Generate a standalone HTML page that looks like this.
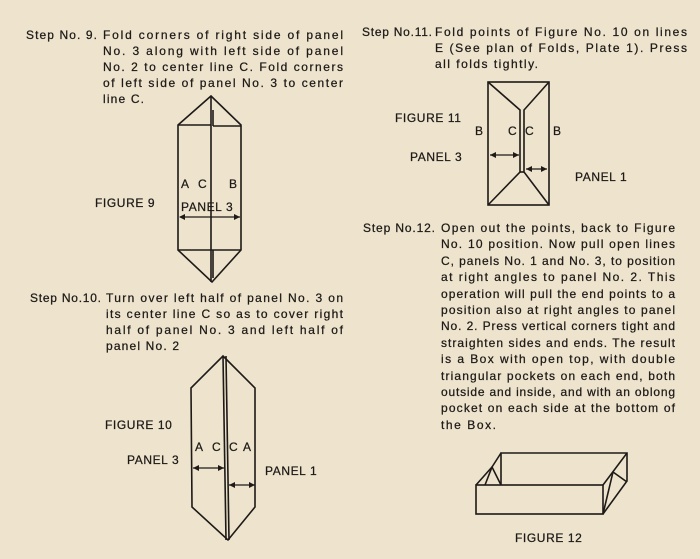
<!DOCTYPE html>
<html><head><meta charset="utf-8"><style>
html,body{margin:0;padding:0;background:#eee3cd;}
svg{display:block}
text{font-family:"Liberation Sans",sans-serif;fill:#1d1a17;font-size:12px;stroke:#1d1a17;stroke-width:0.25px;}
.f{font-size:12.5px;letter-spacing:0.6px}
</style></head><body>
<svg width="700" height="559" viewBox="0 0 700 559" xmlns="http://www.w3.org/2000/svg">
<rect width="700" height="559" fill="#eee3cd"/>
<g>
<text x="26" y="39" textLength="71" lengthAdjust="spacing">Step No. 9.</text>
<text x="103" y="39" textLength="240" lengthAdjust="spacing">Fold corners of right side of panel</text>
<text x="103" y="55" textLength="240" lengthAdjust="spacing">No. 3 along with left side of panel</text>
<text x="103" y="71" textLength="240" lengthAdjust="spacing">No. 2 to center line C. Fold corners</text>
<text x="103" y="87" textLength="240" lengthAdjust="spacing">of left side of panel No. 3 to center</text>
<text x="103" y="103" textLength="41" lengthAdjust="spacing">line C.</text>

<text x="30" y="302" textLength="71" lengthAdjust="spacing">Step No.10.</text>
<text x="106" y="302" textLength="237" lengthAdjust="spacing">Turn over left half of panel No. 3 on</text>
<text x="106" y="318" textLength="237" lengthAdjust="spacing">its center line C so as to cover right</text>
<text x="106" y="334" textLength="237" lengthAdjust="spacing">half of panel No. 3 and left half of</text>
<text x="106" y="350" textLength="73" lengthAdjust="spacing">panel No. 2</text>

<text x="362" y="36" textLength="70" lengthAdjust="spacing">Step No.11.</text>
<text x="435" y="36" textLength="252" lengthAdjust="spacing">Fold points of Figure No. 10 on lines</text>
<text x="435" y="52" textLength="252" lengthAdjust="spacing">E (See plan of Folds, Plate 1). Press</text>
<text x="435" y="68" textLength="103" lengthAdjust="spacing">all folds tightly.</text>

<text x="363" y="232" textLength="72" lengthAdjust="spacing">Step No.12.</text>
<text x="441" y="232" textLength="234" lengthAdjust="spacing">Open out the points, back to Figure</text>
<text x="441" y="248" textLength="234" lengthAdjust="spacing">No. 10 position. Now pull open lines</text>
<text x="441" y="265" textLength="234" lengthAdjust="spacing">C, panels No. 1 and No. 3, to position</text>
<text x="441" y="281" textLength="234" lengthAdjust="spacing">at right angles to panel No. 2. This</text>
<text x="441" y="298" textLength="234" lengthAdjust="spacing">operation will pull the end points to a</text>
<text x="441" y="314" textLength="234" lengthAdjust="spacing">position also at right angles to panel</text>
<text x="441" y="330" textLength="234" lengthAdjust="spacing">No. 2. Press vertical corners tight and</text>
<text x="441" y="347" textLength="234" lengthAdjust="spacing">straighten sides and ends. The result</text>
<text x="441" y="363" textLength="234" lengthAdjust="spacing">is a Box with open top, with double</text>
<text x="441" y="380" textLength="234" lengthAdjust="spacing">triangular pockets on each end, both</text>
<text x="441" y="396" textLength="234" lengthAdjust="spacing">outside and inside, and with an oblong</text>
<text x="441" y="412" textLength="234" lengthAdjust="spacing">pocket on each side at the bottom of</text>
<text x="441" y="429" textLength="55" lengthAdjust="spacing">the Box.</text>
</g>

<g stroke="#1d1a17" stroke-width="1.6" fill="none">
<polygon points="211,96 241,125 241,250 212,282 178,250 178,125"/>
<line x1="211" y1="96" x2="211" y2="282"/>
<line x1="178" y1="125" x2="211" y2="125"/>
<line x1="213" y1="110" x2="213" y2="126"/><line x1="213" y1="126" x2="241" y2="126"/>
<line x1="178" y1="250" x2="241" y2="250"/>
<line x1="213" y1="250" x2="213" y2="278"/>
<line x1="180" y1="217" x2="240" y2="217" stroke-width="1.2"/>
<polygon points="223,356 255,388 255,507 228,540 192,507 191,388"/>
<line x1="223" y1="356" x2="226" y2="540"/>
<line x1="226" y1="356" x2="229" y2="540"/>
<line x1="193" y1="468" x2="224" y2="468" stroke-width="1.2"/>
<line x1="229" y1="485" x2="255" y2="485" stroke-width="1.2"/>
<rect x="488" y="82" width="61" height="123"/>
<polyline points="488,82 520,110 520,172 488,205"/>
<polyline points="549,82 524,110 524,172 549,205"/>
<line x1="520" y1="172" x2="524" y2="172"/>
<line x1="490" y1="155" x2="519" y2="155" stroke-width="1.2"/>
<line x1="526" y1="169" x2="547" y2="169" stroke-width="1.2"/>
<rect x="476" y="485" width="127" height="29"/>
<polyline points="501,485 501,453 627,453 627,481 603,514"/>
<line x1="603" y1="485" x2="627" y2="453"/>
<polyline points="476,485 492,467 501,485"/>
<line x1="492" y1="467" x2="485" y2="485"/>
<line x1="492" y1="467" x2="501" y2="453"/>
<polyline points="613,472 627,482"/>
<line x1="613" y1="472" x2="603" y2="514"/>
</g>
<g fill="#1d1a17">
<polygon points="179,217 185,214 185,220"/><polygon points="240,217 234,214 234,220"/>
<polygon points="193,468 199,465 199,471"/><polygon points="224,468 218,465 218,471"/>
<polygon points="229,485 235,482 235,488"/><polygon points="255,485 249,482 249,488"/>
<polygon points="490,155 496,152 496,158"/><polygon points="519,155 513,152 513,158"/>
<polygon points="526,169 532,166 532,172"/><polygon points="547,169 541,166 541,172"/>
</g>
<g class="f">
<text x="95" y="207">FIGURE 9</text>
<text x="181" y="188">A</text><text x="198" y="188">C</text><text x="229" y="188">B</text>
<text x="181" y="211">PANEL 3</text>
<text x="105" y="429">FIGURE 10</text>
<text x="127" y="464">PANEL 3</text>
<text x="195" y="451">A</text><text x="212" y="451">C</text><text x="229" y="451">C</text><text x="243" y="451">A</text>
<text x="265" y="475">PANEL 1</text>
<text x="395" y="122">FIGURE 11</text>
<text x="475" y="135">B</text><text x="508" y="135">C</text><text x="525" y="135">C</text><text x="553" y="135">B</text>
<text x="410" y="161">PANEL 3</text>
<text x="575" y="181">PANEL 1</text>
<text x="515" y="542">FIGURE 12</text>
</g>
</svg>
</body></html>
